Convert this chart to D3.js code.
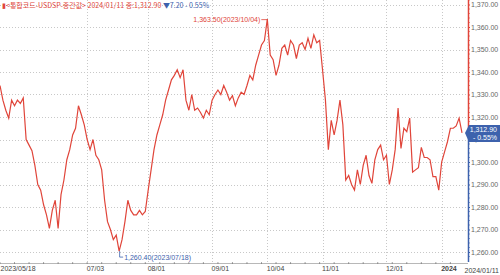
<!DOCTYPE html>
<html>
<head>
<meta charset="utf-8">
<script src="https://cdn.jsdelivr.net/npm/d3@7"></script>
<style>
  body { margin: 0; background: #fff; }
  svg { display: block; font-family: "Liberation Sans", Arial, sans-serif; }
</style>
</head>
<body>
<script>
// Chart area
var svgWidth = 500;
var svgHeight = 275;

// USD/KRW daily close, 2023/05/18 .. 2024/01/11 (one value per trading day)
var closes = [
  1334, 1327.5, 1323, 1319.5, 1327.5, 1325, 1327.5, 1326, 1328.5,
  1310, 1307.5, 1305, 1298.5, 1290, 1287.5, 1281, 1276.5, 1270.5, 1278.5, 1283, 1270.5,
  1285.5, 1292, 1301, 1305.5, 1312, 1315, 1325, 1321, 1316.5,
  1310, 1305.5, 1310, 1303, 1301, 1296.5, 1283, 1273.5, 1270, 1265.5, 1267.5, 1260.4,
  1265.5, 1273.5, 1283, 1278.5, 1276.5, 1276.5, 1278.5, 1276.5, 1278,
  1287.5, 1296.5, 1305.5, 1312, 1316.5, 1321, 1327.5, 1332, 1336.5, 1338.5, 1341,
  1337.5, 1341, 1327.5, 1323, 1330, 1323, 1324, 1322, 1319.5, 1323, 1321,
  1327.5, 1330, 1332, 1330, 1334, 1331, 1327.5, 1329.5, 1325, 1328.5, 1331,
  1330, 1334, 1338.5, 1336.5, 1343, 1347.5, 1352, 1354,
  1363.5, 1347.5, 1345.5, 1338.5, 1343, 1350.5, 1352, 1347.5, 1354, 1352,
  1346, 1352, 1353, 1350, 1355, 1350.5, 1356.5, 1353, 1354,
  1341, 1327.5, 1305.5, 1318.5, 1312, 1318.5, 1327.5, 1316.5, 1292, 1294,
  1290, 1287.5, 1296.5, 1290, 1298.5, 1303, 1294, 1290.5, 1301, 1305.5, 1307.5, 1301,
  1303, 1290, 1296.5, 1305.5, 1324, 1306, 1315, 1313.5, 1319.5, 1295.5,
  1296.5, 1297.5, 1306.5, 1302, 1302, 1301, 1293.5, 1293.5, 1287.5,
  1300, 1304.5, 1309, 1315, 1315, 1316, 1319.5, 1312.9
];

// x-axis labels, placed on trading-day index
var tickIndex = [0, 30, 51, 73, 92, 111, 133, 152];
var tickLabels = ["2023/05/18", "07/03", "08/01", "09/01", "10/04", "11/01", "12/01", "2024"];

// y-axis ticks
var yTicks = [1260, 1270, 1280, 1290, 1300, 1310, 1320, 1330, 1340, 1350, 1360, 1370];

var maxIndex = 92, minIndex = 41;
var maxLabel = "1,363.50(2023/10/04)";
var minLabel = "1,260.40(2023/07/18)";
var lastLabel = "1,312.90";
var lastChange = "- 0.55%";
var lastDate = "2024/01/11";

var red = "#e0453a";
var blue = "#3d62ad";
var grey = "#666";

var axisX = 468;

var svg = d3.select("body")
  .append("svg")
  .attr("width", svgWidth)
  .attr("height", svgHeight);

var xScale = d3.scaleLinear()
  .domain([0, closes.length - 1])
  .range([0, 462]);

var yScale = d3.scaleLinear()
  .domain([1260, 1320])
  .range([252, 117]);

// horizontal dotted grid
svg.append("g")
  .selectAll("line")
  .data(yTicks)
  .enter()
  .append("line")
  .attr("x1", 0)
  .attr("x2", axisX)
  .attr("y1", d => Math.round(yScale(d)) + 0.5)
  .attr("y2", d => Math.round(yScale(d)) + 0.5)
  .attr("stroke", "#c8c8c8")
  .attr("stroke-dasharray", "1,2");

// vertical dotted grid
svg.append("g")
  .selectAll("line")
  .data(tickIndex.slice(1))
  .enter()
  .append("line")
  .attr("x1", d => Math.round(xScale(d)) + 0.5)
  .attr("x2", d => Math.round(xScale(d)) + 0.5)
  .attr("y1", 0)
  .attr("y2", 262)
  .attr("stroke", "#c8c8c8")
  .attr("stroke-dasharray", "1,2");

// price line
var line = d3.line()
  .x((d, i) => xScale(i))
  .y(d => yScale(d));

svg.append("path")
  .datum(closes)
  .attr("d", line)
  .attr("fill", "none")
  .attr("stroke", red)
  .attr("stroke-width", 1.2);

// y axis: red above last price, blue below
var lastY = yScale(closes[closes.length - 1]);
svg.append("line")
  .attr("x1", axisX + 0.5).attr("x2", axisX + 0.5)
  .attr("y1", 0).attr("y2", lastY)
  .attr("stroke", red).attr("stroke-width", 1.5);
svg.append("line")
  .attr("x1", axisX + 0.5).attr("x2", axisX + 0.5)
  .attr("y1", lastY).attr("y2", 262)
  .attr("stroke", blue).attr("stroke-width", 1.5);

var yAxis = d3.axisRight(yScale)
  .tickValues(yTicks)
  .tickSize(2)
  .tickFormat(d3.format(",.2f"));

var yg = svg.append("g")
  .attr("transform", `translate(${axisX}, 0)`)
  .call(yAxis);
yg.select(".domain").remove();
yg.selectAll("text")
  .attr("x", 3)
  .attr("fill", grey)
  .style("font-size", "7px");
yg.selectAll("line").attr("stroke", d => yScale(d) < lastY ? red : blue);

// minor ticks on y axis
var minor = d3.range(1258, 1373, 2).filter(v => v % 10 !== 0);
svg.append("g")
  .selectAll("line")
  .data(minor)
  .enter()
  .append("line")
  .attr("x1", axisX)
  .attr("x2", axisX + 2)
  .attr("y1", d => yScale(d))
  .attr("y2", d => yScale(d))
  .attr("stroke", d => yScale(d) < lastY ? red : blue)
  .attr("stroke-width", 0.6);

// bottom axis
var xAxis = d3.axisBottom(xScale)
  .tickValues(tickIndex)
  .tickSize(0)
  .tickFormat((d, i) => tickLabels[i]);

var xg = svg.append("g")
  .attr("transform", "translate(0, 263)")
  .call(xAxis);
xg.select(".domain").remove();
xg.selectAll("text")
  .attr("y", 3)
  .attr("text-anchor", "start")
  .attr("fill", "#444")
  .style("font-size", "7px")
  .style("font-weight", (d, i) => tickLabels[i] === "2024" ? "bold" : "normal")
  .attr("dx", (d, i) => i === 0 ? 0 : -1);

svg.append("line")
  .attr("x1", 0).attr("x2", axisX)
  .attr("y1", 263.5).attr("y2", 263.5)
  .attr("stroke", "#888").attr("stroke-width", 0.6);

svg.append("g")
  .selectAll("line")
  .data(d3.range(0, closes.length, 5))
  .enter()
  .append("line")
  .attr("x1", d => xScale(d)).attr("x2", d => xScale(d))
  .attr("y1", 262).attr("y2", 264)
  .attr("stroke", "#666").attr("stroke-width", 0.6);

svg.append("text")
  .attr("x", 499).attr("y", 273)
  .attr("text-anchor", "end")
  .attr("fill", "#444")
  .style("font-size", "7px")
  .text(lastDate);

// max / min annotations
var mx = xScale(maxIndex), my = yScale(closes[maxIndex]);
svg.append("line")
  .attr("x1", mx - 6).attr("x2", mx)
  .attr("y1", my + 0.5).attr("y2", my + 0.5)
  .attr("stroke", red).attr("stroke-width", 0.8);
svg.append("text")
  .attr("x", mx - 7).attr("y", my + 2.5)
  .attr("text-anchor", "end")
  .attr("fill", red)
  .style("font-size", "7px")
  .text(maxLabel);

var nx = xScale(minIndex), ny = yScale(closes[minIndex]);
svg.append("path")
  .attr("d", `M${nx + 0.5},${ny} V${ny + 6} H${nx + 4}`)
  .attr("fill", "none")
  .attr("stroke", blue).attr("stroke-width", 0.8);
svg.append("text")
  .attr("x", nx + 5).attr("y", ny + 8.5)
  .attr("fill", blue)
  .style("font-size", "7px")
  .text(minLabel);

// last price box (covers the 1,310 label as in the source)
svg.append("path")
  .attr("d", `M${axisX - 3},${lastY} L${axisX + 1},${lastY - 8} H500 V${lastY + 9} H${axisX + 1} Z`)
  .attr("fill", blue);
svg.append("text")
  .attr("x", 497).attr("y", lastY - 1)
  .attr("text-anchor", "end")
  .attr("fill", "#fff")
  .style("font-size", "7px")
  .text(lastLabel);
svg.append("text")
  .attr("x", 497).attr("y", lastY + 7)
  .attr("text-anchor", "end")
  .attr("fill", "#fff")
  .style("font-size", "7px")
  .text(lastChange);

// title
var title = svg.append("text")
  .attr("x", 2).attr("y", 8)
  .style("font-size", "7px")
  .style("font-family", "'Noto Sans CJK KR', sans-serif");
title.append("tspan").attr("fill", red).text("▮<통합코드-USDSP-종간값> 2024/01/11 종:1,312.90 ");
title.append("tspan").attr("fill", blue).text(" ▼7.20  - 0.55%");
</script>
</body>
</html>
